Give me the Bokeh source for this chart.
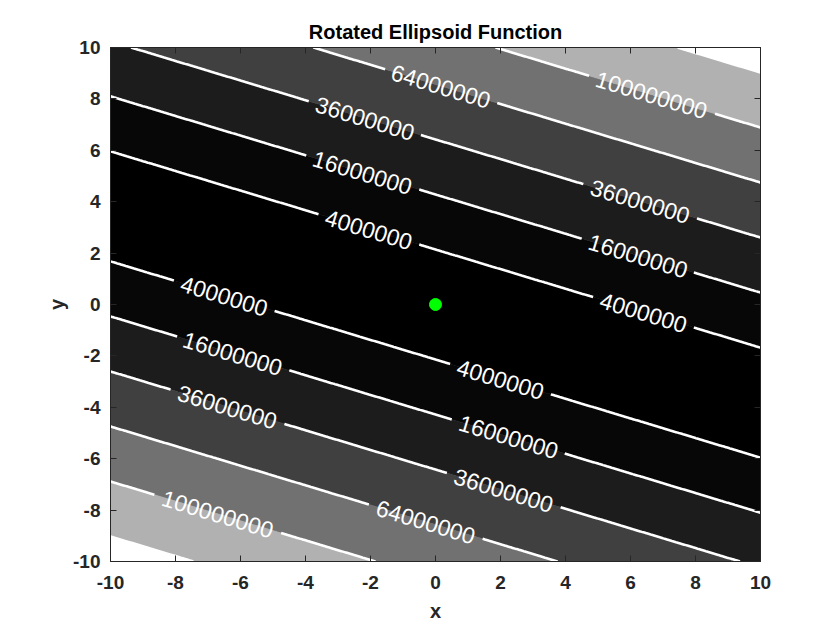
import numpy as np
import contourpy

from bokeh.plotting import figure
from bokeh.models import LinearAxis, FixedTicker, ColumnDataSource
from bokeh.core.properties import value
from bokeh.embed import file_html
from bokeh.resources import INLINE

# ellipsoid: valley through the origin, falling to the right
rotation_deg = 20.9
conditioning = 1e6

levels = [4e6, 16e6, 36e6, 64e6, 100e6, 144e6]
band_colors = ["#000000", "#070707", "#1c1c1c", "#404040",
               "#717171", "#b1b1b1", "#ffffff"]

# contour labels (approximate centres, snapped onto their line below)
label_level = [64e6, 100e6, 36e6, 16e6, 4e6, 36e6, 16e6, 4e6,
               4e6, 4e6, 16e6, 16e6, 36e6, 36e6, 100e6, 64e6]
label_x = [0.15, 6.65, -2.18, -2.25, -2.09, 6.31, 6.22, 6.37,
           -6.49, 2.0, -6.25, 2.25, -6.4, 2.1, -6.71, -0.25]
label_y = [8.4, 8.09, 7.24, 5.10, 2.84, 3.97, 1.83, -0.54,
           0.27, -2.96, -1.95, -5.18, -4.05, -7.24, -8.21, -8.25]

min_x = [0.0]
min_y = [0.0]

x_ticks = [-10, -8, -6, -4, -2, 0, 2, 4, 6, 8, 10]
y_ticks = [-10, -8, -6, -4, -2, 0, 2, 4, 6, 8, 10]

FONT = "Liberation Sans"
LABEL_SIZE = 23
W, H = 820, 624
BL, BR, BT, BB = 110, 60, 47, 63
sx = (W - BL - BR) / 20.0
sy = (H - BT - BB) / 20.0

# function on a grid
gx = np.linspace(-10, 10, 401)
gy = np.linspace(-10, 10, 401)
X, Y = np.meshgrid(gx, gy)
t = np.radians(rotation_deg)
d = np.sin(t) * X + np.cos(t) * Y
u = np.cos(t) * X - np.sin(t) * Y
Z = conditioning * d ** 2 + u ** 2

p = figure(width=W, height=H, x_range=(-10, 10), y_range=(-10, 10),
           title="Rotated Ellipsoid Function",
           output_backend="svg", toolbar_location=None,
           x_axis_location=None, y_axis_location=None,
           min_border_left=BL, min_border_right=BR,
           min_border_top=BT, min_border_bottom=BB)

gen = contourpy.contour_generator(gx, gy, Z, fill_type="OuterOffset",
                                  line_type="Separate")

# filled bands
fill_levels = [-1.0] + levels + [float(Z.max()) + 1.0]
pxs, pys, pcol = [], [], []
for lo, hi, col in zip(fill_levels[:-1], fill_levels[1:], band_colors):
    pts_list, off_list = gen.filled(lo, hi)
    for pts, off in zip(pts_list, off_list):
        rx = [pts[off[j]:off[j + 1], 0].tolist() for j in range(len(off) - 1)]
        ry = [pts[off[j]:off[j + 1], 1].tolist() for j in range(len(off) - 1)]
        pxs.append([rx])
        pys.append([ry])
        pcol.append(col)
p.multi_polygons(xs=pxs, ys=pys, fill_color=pcol, line_color=pcol,
                 line_width=0.6)

# contour lines with gaps where the labels sit
seg_xs, seg_ys = [], []
lab = {"x": [], "y": [], "text": [], "angle": []}
for lev in levels:
    lines = [ln for ln in gen.lines(lev) if len(ln) > 1]
    cuts = [[] for _ in lines]
    for lv, lx, ly in zip(label_level, label_x, label_y):
        if lv != lev:
            continue
        best = None
        for i, ln in enumerate(lines):
            dist = np.hypot((ln[:, 0] - lx) * sx, (ln[:, 1] - ly) * sy)
            k = int(np.argmin(dist))
            if best is None or dist[k] < best[0]:
                best = (dist[k], i, k)
        _, i, k = best
        ln = lines[i]
        a, b = ln[max(k - 3, 0)], ln[min(k + 3, len(ln) - 1)]
        dx, dy = (b[0] - a[0]) * sx, (b[1] - a[1]) * sy
        if dx < 0:
            dx, dy = -dx, -dy
        txt = "%d" % lev
        lab["x"].append(ln[k, 0])
        lab["y"].append(ln[k, 1])
        lab["text"].append(txt)
        lab["angle"].append(np.arctan2(dy, dx))
        cuts[i].append((ln[k, 0], ln[k, 1], len(txt) * 0.556 * LABEL_SIZE / 2 + 7))
    for ln, cl in zip(lines, cuts):
        keep = np.ones(len(ln), dtype=bool)
        for cx, cy, r in cl:
            keep &= np.hypot((ln[:, 0] - cx) * sx, (ln[:, 1] - cy) * sy) > r
        start = None
        for j in range(len(ln) + 1):
            if j < len(ln) and keep[j]:
                if start is None:
                    start = j
            elif start is not None:
                if j - start > 1:
                    seg_xs.append(ln[start:j, 0].tolist())
                    seg_ys.append(ln[start:j, 1].tolist())
                start = None

p.multi_line(xs=seg_xs, ys=seg_ys, line_color="white", line_width=2.6,
             line_cap="butt")
p.text(x="x", y="y", text="text", angle="angle", source=ColumnDataSource(lab),
       text_color="white", text_font=value(FONT),
       text_font_size="%dpx" % LABEL_SIZE,
       text_align="center", text_baseline="middle")

p.scatter(min_x, min_y, size=12, color="#00ff00", line_color="#00ff00")

# boxed axes, ticks pointing inwards on all four sides
bottom = LinearAxis(ticker=FixedTicker(ticks=x_ticks), axis_label="x",
                    major_label_overrides={v: str(v) for v in x_ticks},
                    major_label_standoff=14)
left = LinearAxis(ticker=FixedTicker(ticks=y_ticks), axis_label="y",
                  major_label_overrides={v: str(v) for v in y_ticks},
                  major_label_standoff=10)
top = LinearAxis(ticker=FixedTicker(ticks=x_ticks), major_label_standoff=0,
                 major_label_overrides={v: "" for v in x_ticks})
right = LinearAxis(ticker=FixedTicker(ticks=y_ticks), major_label_standoff=0,
                   major_label_overrides={v: "" for v in y_ticks})
p.add_layout(bottom, "below")
p.add_layout(left, "left")
p.add_layout(top, "above")
p.add_layout(right, "right")

for ax in (bottom, left, top, right):
    ax.major_tick_in = 6
    ax.major_tick_out = 0
    ax.minor_tick_line_color = None
    ax.axis_line_color = "#262626"
    ax.major_tick_line_color = "#262626"
    ax.major_label_text_font = FONT
    ax.major_label_text_font_size = "19px"
    ax.major_label_text_font_style = "bold"
    ax.major_label_text_color = "#262626"
    ax.axis_label_text_font = FONT
    ax.axis_label_text_font_size = "20px"
    ax.axis_label_text_font_style = "bold"
    ax.axis_label_text_color = "#262626"
bottom.axis_label_standoff = 8
left.axis_label_standoff = 2

p.grid.visible = False
p.outline_line_color = "#262626"
p.title.align = "center"
p.title.text_font = FONT
p.title.text_font_size = "20px"
p.title.text_font_style = "bold"
p.title.text_color = "black"

open("out.html", "w").write(file_html(p, INLINE))
